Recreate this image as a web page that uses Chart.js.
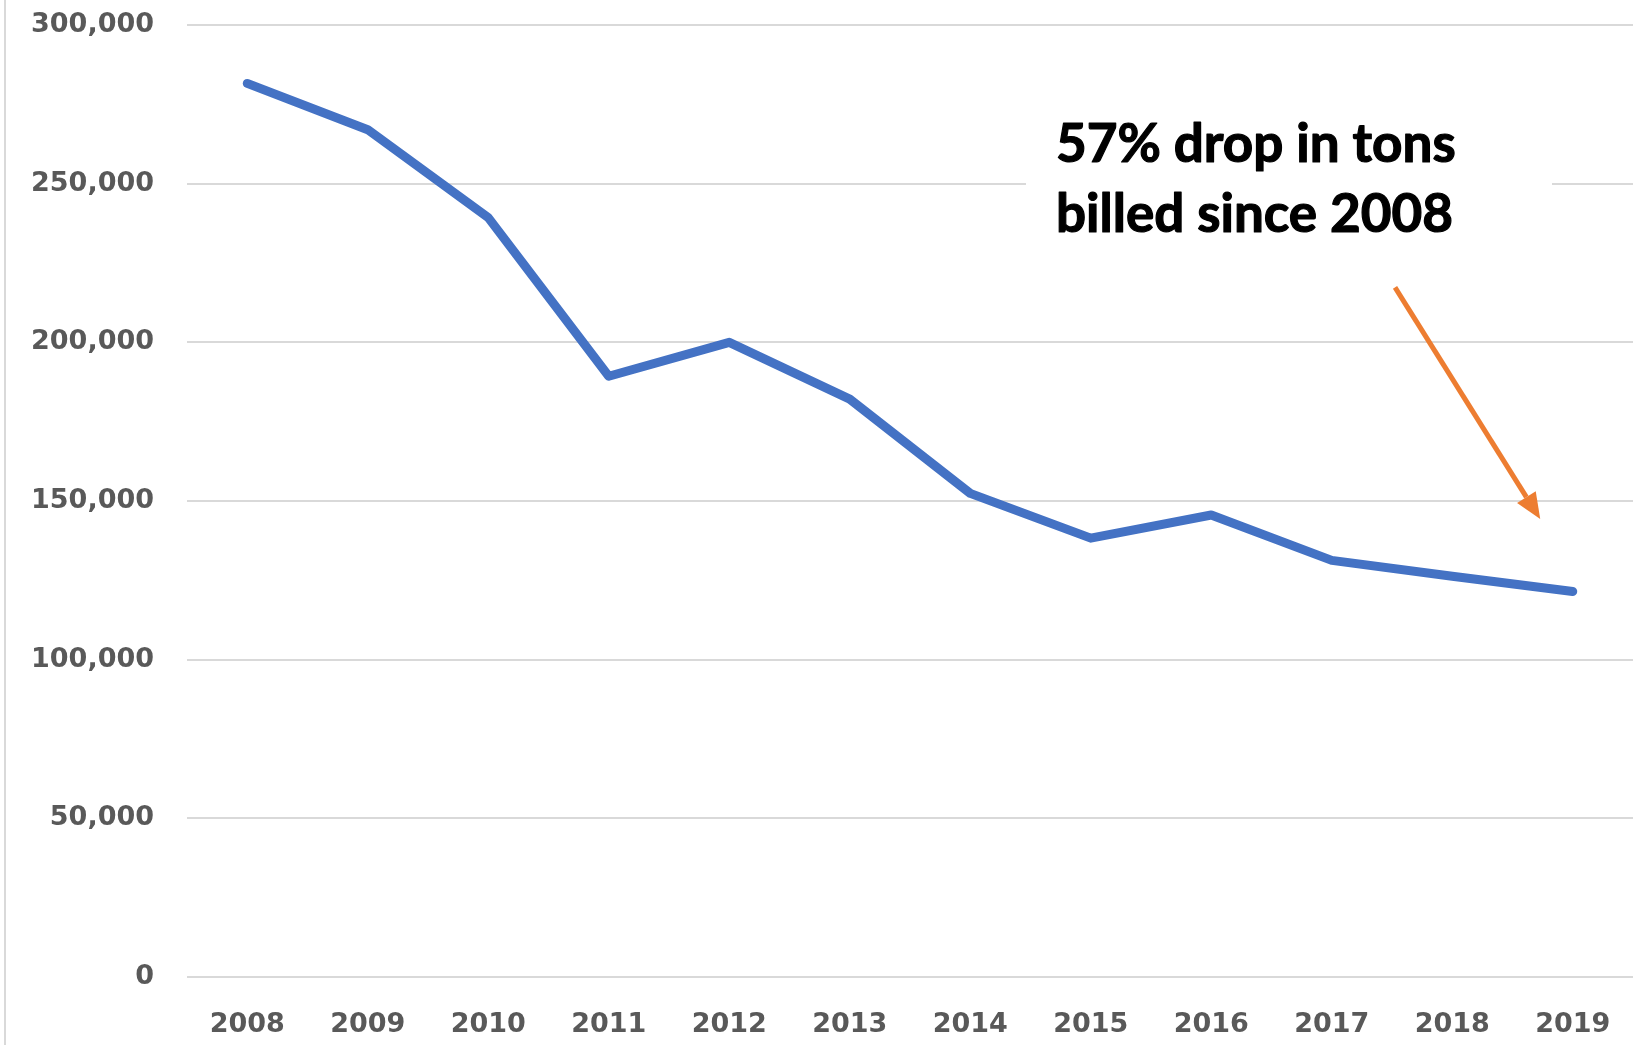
<!DOCTYPE html>
<html lang="en">
<head>
    <meta charset="UTF-8">
    <title>Tons Billed 2008-2019</title>
    <script src="https://cdn.jsdelivr.net/npm/chart.js"></script>
    <style>
        body { margin: 0; background: #fff; }
        canvas { display: block; }
    </style>
</head>
<body>
    <canvas id="tonsChart" width="1639" height="1045"></canvas>

    <script>
        var years = ['2008', '2009', '2010', '2011', '2012', '2013', '2014', '2015', '2016', '2017', '2018', '2019'];
        var tonsBilled = [281600, 267000, 239300, 189300, 200000, 182100, 152400, 138300, 145600, 131300, 126300, 121500];
        var yTicks = [0, 50000, 100000, 150000, 200000, 250000, 300000];

        var noteLines = ['57% drop in tons', 'billed since 2008'];

        // callout text + arrow pointing down toward the end of the line
        var calloutPlugin = {
            id: 'callout',
            beforeDraw: function (chart) {
                var ctx = chart.ctx;
                ctx.save();
                ctx.strokeStyle = '#d9d9d9';
                ctx.lineWidth = 2;
                ctx.beginPath();
                ctx.moveTo(5, 0);
                ctx.lineTo(5, chart.height);
                ctx.stroke();
                ctx.restore();
            },
            afterDatasetsDraw: function (chart) {
                var ctx = chart.ctx;
                var x = chart.scales.x, y = chart.scales.y;
                ctx.save();

                // white box behind the text hides the gridline
                ctx.fillStyle = '#fff';
                ctx.fillRect(1026, 95, 526, 170);

                ctx.fillStyle = '#000';
                ctx.strokeStyle = '#000';
                ctx.lineWidth = 1.2;
                ctx.lineJoin = 'round';
                ctx.font = 'bold 53px Lato';
                ctx.textAlign = 'left';
                ctx.textBaseline = 'alphabetic';
                noteLines.forEach(function (txt, i) {
                    ctx.fillText(txt, 1056, 162 + i * 70);
                    ctx.strokeText(txt, 1056, 162 + i * 70);
                });

                var x0 = x.getPixelForValue(9.525), y0 = y.getPixelForValue(217300);
                var x1 = x.getPixelForValue(10.73), y1 = y.getPixelForValue(144300);
                var ang = Math.atan2(y1 - y0, x1 - x0);
                var headLen = 26, headW = 11;
                var bx = x1 - headLen * Math.cos(ang), by = y1 - headLen * Math.sin(ang);

                ctx.strokeStyle = '#ed7d31';
                ctx.lineWidth = 5;
                ctx.lineCap = 'butt';
                ctx.beginPath();
                ctx.moveTo(x0, y0);
                ctx.lineTo(bx, by);
                ctx.stroke();

                ctx.fillStyle = '#ed7d31';
                ctx.beginPath();
                ctx.moveTo(x1, y1);
                ctx.lineTo(bx + headW * Math.sin(ang), by - headW * Math.cos(ang));
                ctx.lineTo(bx - headW * Math.sin(ang), by + headW * Math.cos(ang));
                ctx.closePath();
                ctx.fill();
                ctx.restore();
            }
        };

        var tickFont = { family: 'DejaVu Sans', size: 27, weight: 'bold' };

        new Chart(document.getElementById('tonsChart'), {
            type: 'line',
            data: {
                labels: years,
                datasets: [{
                    data: tonsBilled,
                    borderColor: '#4472c4',
                    borderWidth: 9,
                    borderCapStyle: 'round',
                    borderJoinStyle: 'round',
                    pointRadius: 0,
                    tension: 0,
                    fill: false
                }]
            },
            options: {
                responsive: false,
                animation: false,
                layout: { padding: { left: 10, right: 6, top: 25, bottom: 0 } },
                plugins: {
                    legend: { display: false },
                    tooltip: { enabled: false }
                },
                scales: {
                    x: {
                        offset: true,
                        grid: { display: false, drawTicks: false },
                        border: { display: false },
                        ticks: { color: '#595959', font: tickFont, padding: 32, maxRotation: 0 },
                        afterFit: function (s) {
                            s.height = 68;
                            s.paddingLeft = 0;
                            s.paddingRight = 0;
                        }
                    },
                    y: {
                        min: 0,
                        max: 300000,
                        afterBuildTicks: function (s) {
                            s.ticks = yTicks.map(function (v) { return { value: v }; });
                        },
                        grid: { color: '#d9d9d9', lineWidth: 2, drawTicks: false },
                        border: { display: false },
                        ticks: {
                            color: '#595959',
                            font: tickFont,
                            padding: 33,
                            callback: function (v) { return v.toLocaleString('en-US'); }
                        },
                        afterFit: function (s) {
                            s.width = 177;
                            s.paddingTop = 0;
                            s.paddingBottom = 0;
                        }
                    }
                }
            },
            plugins: [calloutPlugin]
        });
    </script>
</body>
</html>
